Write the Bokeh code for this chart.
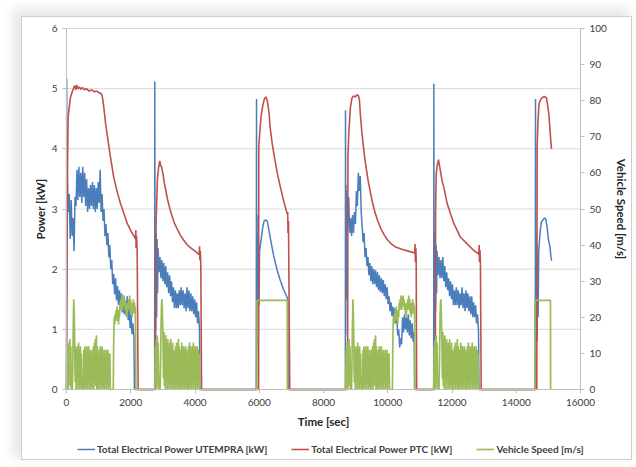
import numpy as np
from bokeh.plotting import figure
from bokeh.models import Range1d, LinearAxis, FixedTicker, Legend, LegendItem
from bokeh.embed import file_html
from bokeh.resources import INLINE

# ---------------- data ----------------
x_ticks = [0, 2000, 4000, 6000, 8000, 10000, 12000, 14000, 16000]
power_ticks = [0, 1, 2, 3, 4, 5, 6]
speed_ticks = [0, 10, 20, 30, 40, 50, 60, 70, 80, 90, 100]
series_names = ["Total Electrical Power UTEMPRA [kW]",
                "Total Electrical Power PTC [kW]",
                "Vehicle Speed [m/s]"]

# vehicle speed [m/s], sampled every 15 s, two driving profiles (A, B)
speed_step = 15
speed_profile_a = [
    0, 11, 2, 13, 0, 12, 4, 14, 1, 12, 0, 0, 0, 6, 17, 25, 21, 13, 2, 12,
    0, 11, 3, 12, 0, 13, 1, 11, 0, 12, 2, 10, 0, 0, 0, 0, 11, 1, 12, 0,
    11, 3, 12, 0, 11, 2, 12, 0, 10, 1, 11, 0, 0, 0, 11, 2, 12, 0, 13, 3,
    14, 1, 15, 0, 12, 0, 0, 0, 11, 2, 12, 0, 11, 3, 12, 0, 10, 1, 11, 0,
    10, 2, 11, 0, 10, 1, 11, 0, 10, 2, 10, 0, 0, 0, 0, 0, 0, 0, 14, 20,
    18, 21, 19, 22, 20, 23, 19, 22, 18, 21, 20, 24, 22, 25, 23, 26, 22, 25, 23, 26,
    24, 25, 22, 24, 21, 23, 20, 24, 22, 25, 23, 26, 22, 25, 21, 24, 20, 23, 21, 25,
    22, 24, 21, 23, 0, 0]
speed_profile_b = [
    0, 12, 2, 14, 0, 15, 3, 13, 1, 0, 0, 0, 8, 18, 24, 25, 20, 14, 3, 16,
    1, 14, 0, 15, 2, 13, 0, 14, 3, 12, 0, 13, 2, 14, 0, 12, 1, 13, 0, 11,
    0, 0, 0, 12, 2, 13, 0, 12, 3, 14, 0, 12, 0, 0, 11, 2, 13, 0, 12, 1,
    12, 0, 11, 3, 12, 0, 11, 0, 0, 0, 12, 1, 13, 0, 12, 2, 11, 0, 12, 3,
    13, 0, 11, 2, 12, 0, 11, 1, 12, 0, 11, 2, 10, 0, 0]
speed_start_a = [0, 8690]
speed_start_b = [2749, 11430]
speed_c3_t = [5930, 5935, 6870, 6875]
speed_c3_v = [0, 24.7, 24.7, 0]
speed_c6_t = [14578, 14583, 15065, 15070]
speed_c6_v = [0, 24.7, 24.7, 0]

# UTEMPRA power [kW]
blue_c1_head_t = [0, 6, 14]
blue_c1_head_v = [0, 5.17, 3.0]
blue_c1_band_span = [25, 2100]
blue_c1_band = [
    3.55, 2.95, 3.25, 2.5, 3.15, 2.55, 2.85, 2.3, 3.2, 3.05,
    3.65, 3.15, 3.7, 3.2, 3.6, 3.1, 3.7, 3.2, 3.6, 3.05,
    3.5, 2.95, 3.35, 3.0, 3.4, 3.05, 3.45, 3.0, 3.4, 2.95,
    3.35, 3.0, 3.45, 3.1, 3.65, 2.95, 3.25, 2.8, 3.0, 2.55,
    2.75, 2.4, 2.6, 2.2, 2.4, 2.0, 2.15, 1.75, 1.92, 1.58,
    1.85, 1.48, 1.72, 1.4, 1.65, 1.33, 1.6, 1.28, 1.56, 1.25,
    1.47, 1.22, 1.55, 1.15, 1.4, 1.02, 1.25, 0.92, 1.1, 0.85]
blue_c1_tail_t = [2115]
blue_c1_tail_v = [0]

blue_c2_head_t = [2744, 2749, 2757, 2767, 2777, 2790, 2805, 2820, 2835]
blue_c2_head_v = [0, 5.12, 0.8, 2.4, 1.0, 2.6, 1.2, 2.5, 1.6]
blue_c2_band_span = [2850, 4140]
blue_c2_band = [
    2.35, 1.95, 2.2, 1.85, 2.15, 1.8, 2.1, 1.75, 2.05, 1.7,
    1.95, 1.6, 1.9, 1.55, 1.8, 1.45, 1.7, 1.35, 1.65, 1.35,
    1.6, 1.35, 1.65, 1.4, 1.7, 1.4, 1.65, 1.35, 1.6, 1.3,
    1.7, 1.35, 1.65, 1.3, 1.6, 1.3, 1.55, 1.25, 1.5, 1.2,
    1.45, 1.1, 1.3, 1.0]
blue_c2_tail_t = [4150]
blue_c2_tail_v = [0]

blue_c3_t = [5905, 5915, 5922, 5932, 5942, 5955, 5968, 5980, 5995, 6010, 6060, 6110,
             6150, 6200, 6250, 6300, 6350, 6450, 6550, 6650, 6750, 6870, 6890, 6900]
blue_c3_v = [0, 4.83, 0.65, 2.9, 0.8, 2.6, 0.7, 2.4, 1.4, 2.3, 2.5, 2.7,
             2.8, 2.82, 2.8, 2.65, 2.5, 2.22, 2.0, 1.82, 1.67, 1.53, 1.45, 0]

blue_c4_head_t = [8680, 8685, 8692, 8700, 8708, 8716]
blue_c4_head_v = [0, 4.64, 0.9, 3.4, 1.5, 3.2]
blue_c4_band_span = [8725, 10820]
blue_c4_band = [
    3.3, 2.7, 3.2, 2.6, 2.85, 2.55, 2.9, 2.6, 2.95, 2.75,
    3.3, 3.05, 3.6, 3.3, 3.55, 2.95, 2.7, 2.45, 2.6, 2.2,
    2.35, 2.05, 2.2, 1.9, 2.1, 1.8, 2.05, 1.75, 2.0, 1.75,
    1.98, 1.7, 1.95, 1.65, 1.9, 1.62, 1.85, 1.6, 1.82, 1.55,
    1.75, 1.5, 1.7, 1.42, 1.55, 1.3, 1.45, 1.22, 1.38, 1.15,
    1.35, 1.1, 1.2, 0.9, 1.0, 0.7, 0.85, 0.75, 1.2, 0.95,
    1.25, 1.0, 1.2, 0.95, 1.25, 0.9, 1.15, 0.85, 1.1, 0.8, 0.95]
blue_c4_tail_t = [10835]
blue_c4_tail_v = [0]

blue_c5_head_t = [11430, 11435, 11443, 11453, 11463, 11476, 11490, 11505, 11520]
blue_c5_head_v = [0, 5.08, 0.8, 2.5, 1.0, 2.6, 1.3, 2.4, 1.6]
blue_c5_band_span = [11535, 12825]
blue_c5_band = [
    2.3, 1.9, 2.2, 1.85, 2.15, 1.85, 2.2, 1.8, 2.05, 1.7,
    1.95, 1.65, 1.85, 1.55, 1.8, 1.5, 1.75, 1.4, 1.65, 1.4,
    1.7, 1.4, 1.65, 1.35, 1.6, 1.4, 1.7, 1.35, 1.6, 1.3,
    1.65, 1.35, 1.6, 1.3, 1.55, 1.25, 1.55, 1.2, 1.45, 1.2,
    1.4, 1.1, 1.25, 0.98]
blue_c5_tail_t = [12840]
blue_c5_tail_v = [0]

blue_c6_t = [14590, 14600, 14608, 14618, 14628, 14640, 14652, 14665, 14680, 14700,
             14740, 14780, 14830, 14880, 14920, 14960, 15000, 15050, 15080, 15100]
blue_c6_v = [0, 4.83, 0.65, 2.6, 0.9, 2.4, 0.8, 2.2, 1.2, 2.3,
             2.6, 2.78, 2.82, 2.85, 2.83, 2.7, 2.5, 2.37, 2.2, 2.14]

# PTC power [kW]
red_c1_t = [0, 30, 50, 75, 125, 180, 230, 260, 290, 320, 360, 400, 450, 500, 560, 620,
            700, 780, 860, 940, 1020, 1080, 1110, 1160, 1210, 1270, 1370, 1470, 1580,
            1680, 1790, 1890, 2000, 2100, 2150, 2158, 2166, 2180, 2200, 2230]
red_c1_v = [0, 3.6, 4.5, 4.65, 4.86, 4.95, 5.02, 5.05, 4.98, 5.06, 5.0, 5.03, 4.99,
            5.02, 4.98, 5.0, 4.96, 4.98, 4.95, 4.96, 4.93, 4.92, 4.88, 4.7, 4.45, 4.22,
            3.86, 3.53, 3.28, 3.09, 2.92, 2.76, 2.64, 2.55, 2.5, 2.65, 2.35, 2.55, 2.3, 0]
red_c2_t = [2765, 2790, 2830, 2870, 2905, 2930, 2960, 3010, 3050, 3150, 3250, 3350, 3450,
            3550, 3650, 3750, 3850, 3950, 4050, 4130, 4142, 4152, 4165, 4180, 4205]
red_c2_v = [0, 2.8, 3.5, 3.7, 3.8, 3.72, 3.7, 3.56, 3.42, 3.15, 2.94, 2.78, 2.66,
            2.56, 2.48, 2.41, 2.36, 2.32, 2.28, 2.24, 2.38, 2.15, 2.3, 2.1, 0]
red_c3_t = [5980, 5987, 6020, 6060, 6110, 6160, 6210, 6250, 6300, 6340, 6400, 6460,
            6560, 6660, 6770, 6870, 6885, 6895, 6910, 6950]
red_c3_v = [0, 4.05, 4.3, 4.55, 4.72, 4.83, 4.86, 4.8, 4.62, 4.35, 4.1, 3.9,
            3.6, 3.36, 3.11, 2.92, 2.95, 2.6, 2.8, 0]
red_c4_t = [8750, 8760, 8790, 8840, 8890, 8940, 8990, 9040, 9090, 9120, 9150, 9190,
            9240, 9290, 9340, 9390, 9450, 9520, 9600, 9690, 9790, 9890, 9990, 10090,
            10240, 10440, 10640, 10840, 10850, 10860, 10875, 10885, 10900]
red_c4_v = [0, 3.85, 4.3, 4.7, 4.85, 4.88, 4.86, 4.9, 4.88, 4.8, 4.55, 4.3,
            4.05, 3.82, 3.64, 3.47, 3.3, 3.12, 2.95, 2.8, 2.67, 2.57, 2.49, 2.43,
            2.37, 2.33, 2.3, 2.27, 2.42, 2.12, 2.35, 2.15, 0]
red_c5_t = [11480, 11490, 11510, 11540, 11580, 11610, 11650, 11700, 11746, 11850,
            11954, 12057, 12265, 12472, 12680, 12835, 12845, 12855, 12870, 12885, 12908]
red_c5_v = [0, 3.0, 3.6, 3.72, 3.82, 3.72, 3.6, 3.45, 3.36, 3.09,
            2.92, 2.76, 2.53, 2.42, 2.31, 2.25, 2.4, 2.12, 2.32, 2.1, 0]
red_c6_t = [14640, 14650, 14680, 14710, 14760, 14810, 14870, 14940, 14970, 15015, 15067, 15098]
red_c6_v = [0, 4.03, 4.5, 4.75, 4.82, 4.85, 4.87, 4.85, 4.75, 4.58, 4.19, 4.0]


# ---------------- assemble series ----------------
def band(span, vals):
    return list(np.linspace(span[0], span[1], len(vals))), list(vals)


def join(parts):
    t, v = [], []
    for pt, pv in parts:
        t += list(pt)
        v += list(pv)
    return np.array(t, dtype=float), np.array(v, dtype=float)


def sampled(start, vals):
    return [start + speed_step * i for i in range(len(vals))], vals


blue_t, blue_v = join([
    (blue_c1_head_t, blue_c1_head_v), band(blue_c1_band_span, blue_c1_band), (blue_c1_tail_t, blue_c1_tail_v),
    (blue_c2_head_t, blue_c2_head_v), band(blue_c2_band_span, blue_c2_band), (blue_c2_tail_t, blue_c2_tail_v),
    (blue_c3_t, blue_c3_v),
    (blue_c4_head_t, blue_c4_head_v), band(blue_c4_band_span, blue_c4_band), (blue_c4_tail_t, blue_c4_tail_v),
    (blue_c5_head_t, blue_c5_head_v), band(blue_c5_band_span, blue_c5_band), (blue_c5_tail_t, blue_c5_tail_v),
    (blue_c6_t, blue_c6_v)])

red_t, red_v = join([(red_c1_t, red_c1_v), (red_c2_t, red_c2_v), (red_c3_t, red_c3_v),
                     (red_c4_t, red_c4_v), (red_c5_t, red_c5_v), (red_c6_t, red_c6_v)])

speed_t, speed_v = join([
    sampled(speed_start_a[0], speed_profile_a),
    sampled(speed_start_b[0], speed_profile_b),
    (speed_c3_t, speed_c3_v),
    sampled(speed_start_a[1], speed_profile_a),
    sampled(speed_start_b[1], speed_profile_b),
    (speed_c6_t, speed_c6_v)])

# ---------------- figure ----------------
FONT = "Lato"
TXT = "#404040"

W, H = 611, 444
# plot area inside the figure (pixels): left 44, right 53, top 11, bottom 72
PX_LEFT, PX_RIGHT, PX_TOP, PX_BOTTOM = 44, 53, 11, 72
x_span = x_ticks[-1] - x_ticks[0]
ux = x_span / (W - PX_LEFT - PX_RIGHT)
p_span = power_ticks[-1] - power_ticks[0]
uy = p_span / (H - PX_TOP - PX_BOTTOM)
x_lo, x_hi = x_ticks[0] - PX_LEFT * ux, x_ticks[-1] + PX_RIGHT * ux
p_lo, p_hi = power_ticks[0] - PX_BOTTOM * uy, power_ticks[-1] + PX_TOP * uy
k = (speed_ticks[-1] - speed_ticks[0]) / p_span
s_lo, s_hi = p_lo * k, p_hi * k

p = figure(width=W, height=H, x_range=Range1d(x_lo, x_hi), y_range=Range1d(p_lo, p_hi),
           output_backend="svg", toolbar_location=None,
           min_border_left=0, min_border_right=0, min_border_top=0, min_border_bottom=0)
p.margin = (16, 0, 0, 21)
p.styles = {"border": "1px solid #cfcfcf",
            "box-shadow": "-6px -5px 10px 3px rgba(0,0,0,0.09)"}
p.outline_line_color = None
p.background_fill_color = "white"
p.border_fill_color = "white"
p.xgrid.grid_line_color = None
p.ygrid.grid_line_color = None

p.extra_y_ranges = {"speed": Range1d(s_lo, s_hi)}

# horizontal gridlines, only across the plot area
p.segment(x0=[x_ticks[0]] * len(power_ticks), x1=[x_ticks[-1]] * len(power_ticks),
          y0=power_ticks, y1=power_ticks, line_color="#d9d9d9", line_width=1)

r_blue = p.line(blue_t, blue_v, line_color="#4a7ebb", line_width=1.5)
r_red = p.line(red_t, red_v, line_color="#c0504d", line_width=1.6)
r_green = p.line(speed_t, speed_v, line_color="#9bbb59", line_width=1.7, y_range_name="speed")

def style_axis(ax, ticks, title, standoff=6):
    ax.ticker = FixedTicker(ticks=ticks)
    ax.bounds = (ticks[0], ticks[-1])
    ax.minor_tick_line_color = None
    ax.major_tick_in = 0
    ax.major_tick_out = 4
    ax.major_tick_line_color = "#bfbfbf"
    ax.axis_line_color = "#bfbfbf"
    ax.major_label_text_font = FONT
    ax.major_label_text_font_size = "10px"
    ax.major_label_text_color = TXT
    ax.major_label_standoff = 5
    ax.axis_label = title
    ax.axis_label_text_font = FONT
    ax.axis_label_text_font_size = "11.5px"
    ax.axis_label_text_font_style = "bold"
    ax.axis_label_text_color = "#262626"
    ax.axis_label_standoff = standoff

style_axis(p.xaxis[0], x_ticks, "Time [sec]")
p.xaxis[0].fixed_location = power_ticks[0]
style_axis(p.yaxis[0], power_ticks, "Power [kW]", standoff=2)
p.yaxis[0].fixed_location = x_ticks[0]
ax_r = LinearAxis(y_range_name="speed", fixed_location=x_ticks[-1])
style_axis(ax_r, speed_ticks, "Vehicle Speed [m/s]", standoff=5)
p.add_layout(ax_r, "right")

legend = Legend(items=[LegendItem(label=series_names[0], renderers=[r_blue]),
                       LegendItem(label=series_names[1], renderers=[r_red]),
                       LegendItem(label=series_names[2], renderers=[r_green])],
                orientation="horizontal", location=(55, 6))
legend.label_text_font = FONT
legend.label_text_font_size = "10px"
legend.label_text_font_style = "bold"
legend.label_text_color = TXT
legend.glyph_width = 18
legend.glyph_height = 10
legend.label_standoff = 2
legend.spacing = 24
legend.padding = 0
legend.margin = 0
legend.border_line_color = None
legend.background_fill_alpha = 0
p.add_layout(legend, "center")

open("out.html", "w").write(file_html(p, INLINE))
